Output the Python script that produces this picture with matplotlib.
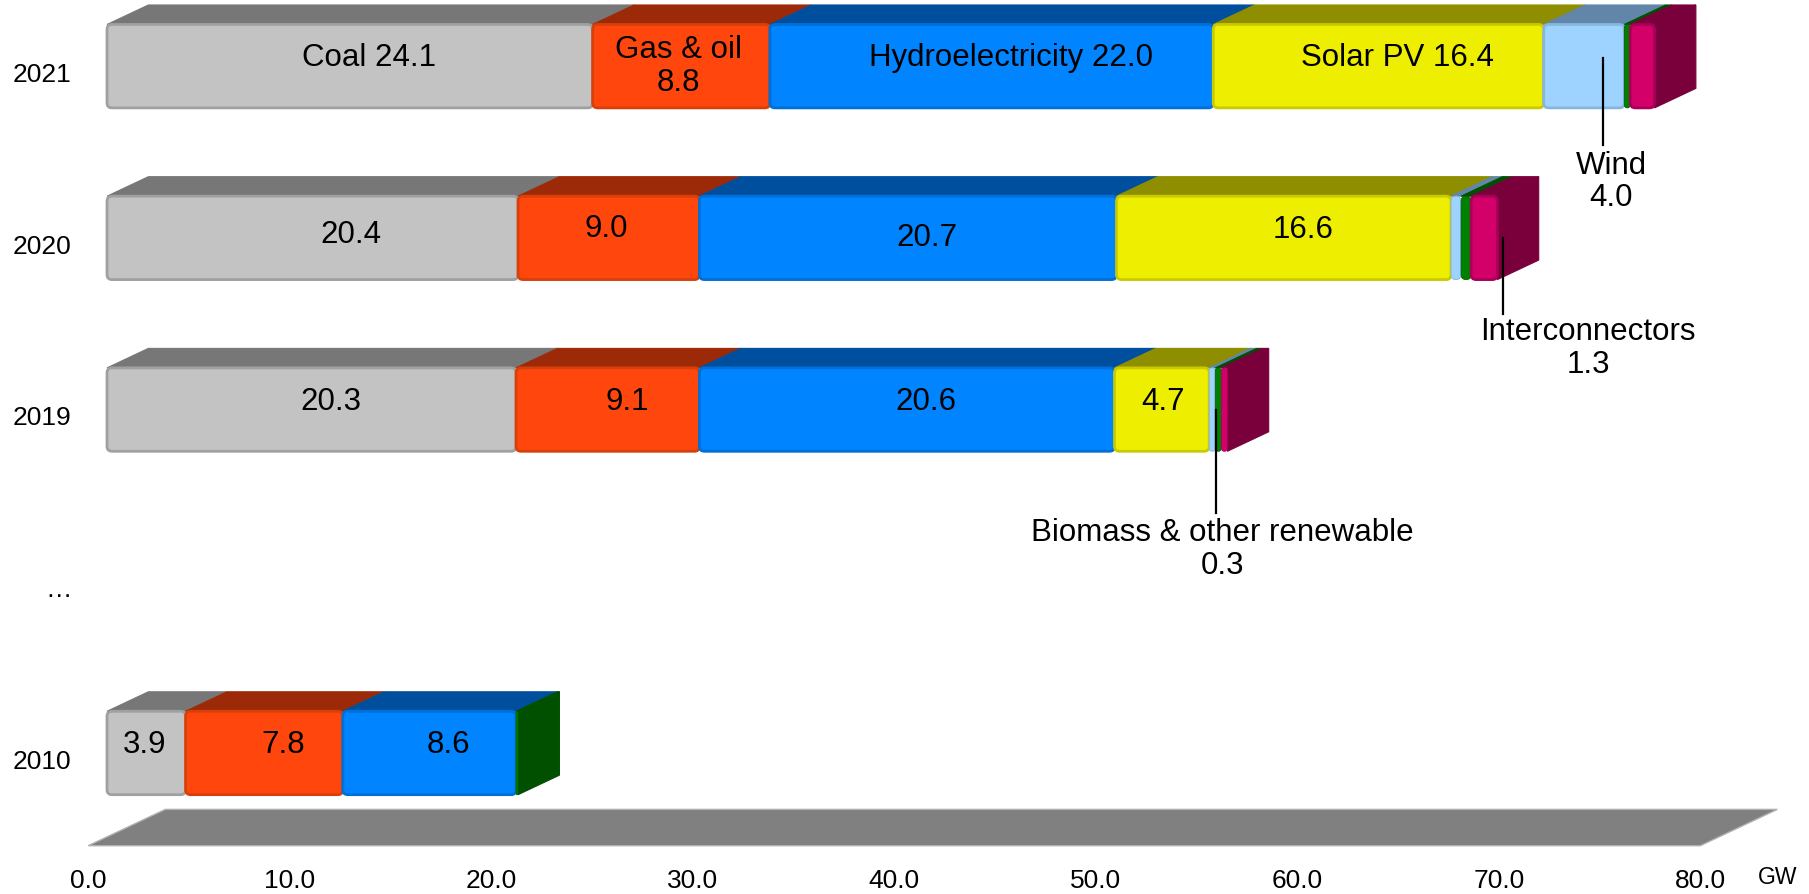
import numpy as np
import matplotlib.pyplot as plt
from matplotlib.patches import Polygon, FancyBboxPatch

plt.rcParams['font.family'] = ['Liberation Sans', 'DejaVu Sans']

# installed capacity in GW
years = ['2021', '2020', '2019', '…', '2010']
sources = ['Coal', 'Gas & oil', 'Hydroelectricity', 'Solar PV', 'Wind',
           'Biomass & other renewable', 'Interconnectors']
gw_2021 = [24.1, 8.8, 22.0, 16.4, 4.0, 0.3, 1.2]
gw_2020 = [20.4, 9.0, 20.7, 16.6, 0.5, 0.5, 1.3]
gw_2019 = [20.3, 9.1, 20.6, 4.7, 0.3, 0.3, 0.3]
gw_2010 = [3.9, 7.8, 8.6, 0.0, 0.0, 0.1, 0.0]
bars = {0: gw_2021, 1: gw_2020, 2: gw_2019, 4: gw_2010}
xticks = np.arange(0, 81, 10)
# how many segments get a value printed inside, and the name prefix used in 2021
n_inside = {0: 4, 1: 4, 2: 4, 4: 3}
prefix_2021 = ['Coal ', 'Gas & oil\n', 'Hydroelectricity ', 'Solar PV ']
# callouts: (row, source index)
callouts = [(0, 4), (1, 6), (2, 5)]

front = ['#c3c3c3', '#ff470d', '#0084ff', '#eeee00', '#9fd3ff', '#008000', '#d4006a']
edge = ['#a0a0a0', '#d8400a', '#0070d8', '#caca00', '#86b6de', '#006000', '#a80056']
top = ['#777777', '#9c2a08', '#004f9e', '#8e8e00', '#6286aa', '#005000', '#7a003c']

# pixel layout of the original picture
PX_GW, PX_ROW = 20.15, 171.7
X0_PX, ROW0_PX = 88.3, 75.0
DX = 77.0 / PX_GW          # full floor depth, in GW
DY = -36.3 / PX_ROW        # full floor depth, in rows (up)
D_FRONT, D_BACK, D_LABEL = 0.243, 0.78, 0.49
HH = 41.7 / PX_ROW         # half height of bar front
RND = 5.0 / PX_GW
ASP = PX_GW / PX_ROW

# label nudges in pixels (right, down)
nudge = {(0, 1): (-22, 8), (1, 0): (19, 5), (1, 1): (-22, -1), (1, 2): (0, 8),
         (2, 3): (-18, 0), (4, 0): (-21, 0)}
# callout layout in pixels: line dx, line start, line end, text dx, text dy
call_lay = {(0, 4): (0, -17, 70, 8, 107),
            (1, 6): (0, -9, 67, 85, 102),
            (2, 5): (-21, -8, 95, 6, 131)}

fig = plt.figure(figsize=(18.09, 8.94), dpi=100)
ax = fig.add_axes([0, 0, 1, 1])
ax.set_xlim(-X0_PX / PX_GW, (1809 - X0_PX) / PX_GW)
ax.set_ylim((894 - ROW0_PX) / PX_ROW, -ROW0_PX / PX_ROW)
ax.axis('off')

# floor
yfl = (845.7 - ROW0_PX) / PX_ROW
ax.add_patch(Polygon([(0, yfl), (80, yfl), (80 + DX, yfl + DY), (DX, yfl + DY)],
                     closed=True, facecolor='#808080', edgecolor='#b0b0b0', lw=1, zorder=1))

for r, vals in bars.items():
    vals = np.array(vals)
    lefts = np.concatenate([[0], np.cumsum(vals)[:-1]])
    yc = r + D_FRONT * DY
    ytop0, ytop1 = yc - HH, r + D_BACK * DY - HH
    last = np.nonzero(vals)[0][-1]
    for i, (l, w) in enumerate(zip(lefts, vals)):
        if w <= 0:
            continue
        x0, x1 = l + D_FRONT * DX, l + w + D_FRONT * DX
        ax.add_patch(Polygon([(x0, ytop0), (x1, ytop0), (x1 + (D_BACK - D_FRONT) * DX, ytop1),
                              (x0 + (D_BACK - D_FRONT) * DX, ytop1)],
                             closed=True, facecolor=top[i], edgecolor=top[i], lw=0.8, zorder=2))
    l, w = lefts[last], vals[last]
    xs0 = l + w + D_FRONT * DX
    xs1 = l + w + D_BACK * DX
    ax.add_patch(Polygon([(xs0, ytop0), (xs1, ytop1), (xs1, ytop1 + 2 * HH), (xs0, yc + HH)],
                         closed=True, facecolor=top[last], edgecolor=top[last], lw=0.8, zorder=2))
    for i, (l, w) in enumerate(zip(lefts, vals)):
        if w <= 0:
            continue
        rs = min(RND, w / 2.0)
        ax.add_patch(FancyBboxPatch((l + D_FRONT * DX, yc - HH), w, 2 * HH,
                                    boxstyle='round,pad=0,rounding_size=%f' % rs,
                                    mutation_aspect=ASP, facecolor=front[i],
                                    edgecolor=edge[i], lw=2.0 if w > 0.6 else 0.6, zorder=3))
    for i in range(n_inside[r]):
        s = '%.1f' % vals[i]
        if r == 0:
            s = prefix_2021[i] + s
        dxp, dyp = nudge.get((r, i), (0, 0))
        xl = lefts[i] + vals[i] / 2 + D_LABEL * DX + dxp / PX_GW
        ax.text(xl, yc + dyp / PX_ROW - 8 / PX_ROW, s, ha='center', va='center',
                fontsize=22.5, linespacing=1.12, zorder=5)

for r, i in callouts:
    vals = np.array(bars[r])
    lefts = np.concatenate([[0], np.cumsum(vals)[:-1]])
    ldx, ys, ye, tdx, tdy = call_lay[(r, i)]
    xl = lefts[i] + vals[i] / 2 + D_LABEL * DX + ldx / PX_GW
    ax.plot([xl, xl], [r + ys / PX_ROW, r + ye / PX_ROW], color='black', lw=1.6, zorder=6)
    ax.text(xl + tdx / PX_GW, r + tdy / PX_ROW, '%s\n%.1f' % (sources[i], vals[i]),
            ha='center', va='center', fontsize=22.5, linespacing=1.12, zorder=6)

# year labels
for r, y in enumerate(years):
    ax.text(-17 / PX_GW, r, y, ha='right', va='center', fontsize=19)

# x tick labels
ytk = (881.5 - ROW0_PX) / PX_ROW
for t in xticks:
    ax.text(t, ytk, '%.1f' % t, ha='center', va='center', fontsize=19)
ax.text((1778 - X0_PX) / PX_GW, (878 - ROW0_PX) / PX_ROW, 'GW', ha='center', va='center', fontsize=16.5)

fig.savefig('out.png', dpi=100)
